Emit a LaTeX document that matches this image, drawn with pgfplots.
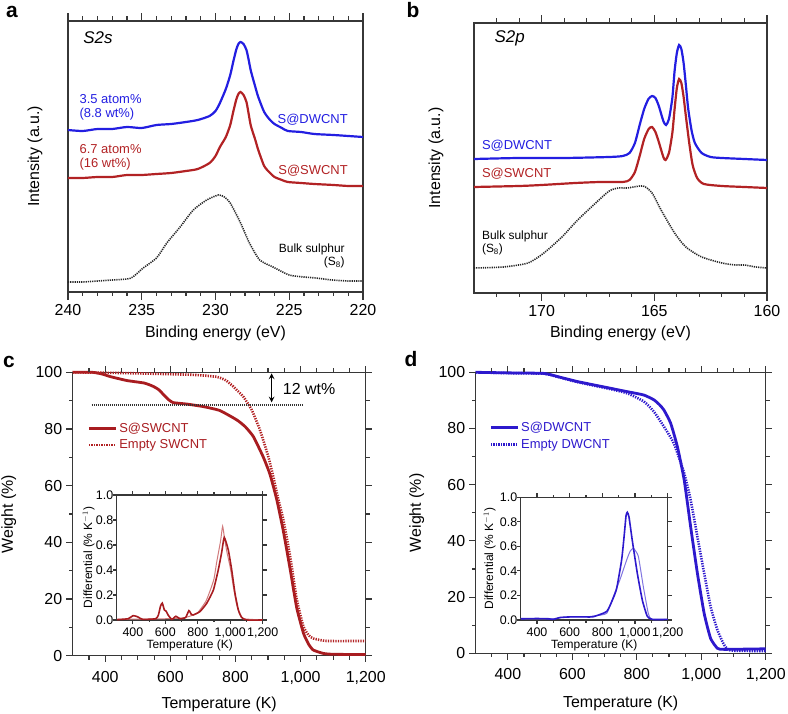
\documentclass[border=0pt]{standalone}
\usepackage{fontspec}
\setmainfont{Liberation Sans}
\usepackage{pgfplots}
\pgfplotsset{compat=1.18}
\definecolor{sblue}{RGB}{35,30,225}
\definecolor{sred}{RGB}{178,34,36}
\definecolor{dred}{RGB}{168,28,32}
\definecolor{dblue}{RGB}{45,25,205}
\definecolor{axgray}{RGB}{55,55,55}
\newcommand{\fs}[1]{\fontsize{#1}{#1}\selectfont}
% tick marks on the axis frame: list, ymin, ymax, length
\newcommand{\xticksat}[4]{\pgfplotsinvokeforeach{#1}{%
  \draw[axgray, line width=1.1bp] (axis cs:##1,#2) -- ([yshift=-#4]axis cs:##1,#2);
  \draw[axgray, line width=1.1bp] (axis cs:##1,#3) -- ([yshift=#4]axis cs:##1,#3);}}
\newcommand{\yticksat}[4]{\pgfplotsinvokeforeach{#1}{%
  \draw[axgray, line width=1.1bp] (axis cs:#2,##1) -- ([xshift=-#4]axis cs:#2,##1);
  \draw[axgray, line width=1.1bp] (axis cs:#3,##1) -- ([xshift=#4]axis cs:#3,##1);}}
\pgfplotsset{
  mybase/.style={scale only axis, anchor=south west, clip=false,
    axis line style={line width=1.1bp, draw=axgray},
    major tick length=0pt, minor tick length=0pt,
    /pgf/number format/assume math mode=true,
    tick label style={font=\fs{16}},
    label style={font=\fs{16}},
    xlabel style={anchor=center},
    ylabel style={anchor=center}},
  myinset/.style={mybase, xmin=300, xmax=1200, ymin=0, ymax=1,
    xtick={400,600,800,1000,1200}, ytick={0,0.2,0.4,0.6,0.8,1},
    yticklabel style={/pgf/number format/.cd, fixed, fixed zerofill, precision=1},
    tick label style={font=\fs{12.5}}, label style={font=\fs{12}},
    xticklabel shift=4bp, yticklabel shift=0bp,
    axis background/.style={fill=white},
    xlabel={Temperature (K)}, ylabel={Differential (\% K$^{-1}$)}},
  mytga/.style={mybase, xmin=300, xmax=1200, ymin=0, ymax=100,
    xtick={400,600,800,1000,1200}, ytick={0,20,40,60,80,100},
    xticklabel shift=12bp, yticklabel shift=7bp,
    xlabel={Temperature (K)}, ylabel={Weight (\%)},
    legend cell align=left,
    legend image code/.code={\draw[##1] (0bp,0bp) -- (27bp,0bp);}},
  myxps/.style={mybase, ymin=0, ytick=\empty, xticklabel shift=9bp,
    xlabel={Binding energy (eV)}, ylabel={Intensity (a.u.)}},
}
\begin{document}
\begin{tikzpicture}
\useasboundingbox (0,0) rectangle (788bp,714bp);
% ---------- a ----------
\begin{axis}[myxps, at={(68bp,422bp)}, width=295bp, height=271bp,
  xmin=220, xmax=240, x dir=reverse, ymax=271, xtick={220,225,230,235,240},
  xlabel style={at={(axis description cs:0.5,-0.151)}},
  ylabel style={at={(axis description cs:-0.112,0.5)}}]
\addplot[sblue, line width=2.2bp, smooth, tension=0.4] coordinates {
(240,162) (239,161) (238,163) (237,163) (236,165) (235,164) (234,167) (233,168) (232,170) (231.2,172) (230.4,176) (230,181) (229.7,189) (229.3,203) (229.0,217) (228.8,230) (228.6,242) (228.45,248) (228.3,250) (228.1,248) (227.9,242) (227.75,232) (227.6,221) (227.3,205) (227.1,195) (226.7,180) (226.3,172) (226.0,168) (225.5,164) (225.1,161) (224.2,160) (223.3,158) (222,157) (221,156) (220,155)};
\addplot[sred, line width=2.2bp, smooth, tension=0.4] coordinates {
(240,114) (239,114) (238,115) (237,115) (236,117) (235,117) (234,118) (233,119) (232,121) (231.2,123) (230.4,129) (230,136) (229.7,145) (229.3,155) (229.0,167) (228.8,180) (228.6,192) (228.45,198) (228.3,200) (228.1,197) (227.9,190) (227.75,178) (227.6,166) (227.3,152) (227.1,142) (226.7,126) (226.3,119) (226.0,115) (225.5,112) (225.1,110) (224.2,109) (223.3,108) (222,107) (221,106) (220,106)};
\addplot[black!85, line width=1.6bp, dash pattern=on 1.2bp off 1bp, smooth, tension=0.4] coordinates {
(240,10) (239,10) (238,11) (237,12) (236,13) (235.6,15) (234.9,24) (234.0,34) (233.3,49) (232.4,65) (231.5,82) (230.6,92) (229.8,97) (229.4,95) (229.0,89) (228.3,69) (227.7,49) (227.0,32) (226.1,25) (225.0,17) (224,15) (223.2,14) (222.1,12) (221,11) (220.1,11)};
\xticksat{220,225,230,235,240}{0}{271}{8bp}
\xticksat{221,222,223,224,226,227,228,229,231,232,233,234,236,237,238,239}{0}{271}{4.5bp}
\node[anchor=west, font=\fs{17}\itshape] at (axis cs:239.2,254) {S2s};
\node[anchor=west, align=left, text=sblue, font=\fs{13}] at (axis cs:239.45,185) {3.5 atom\%\\[1bp](8.8 wt\%)};
\node[anchor=west, align=left, text=sred, font=\fs{13}] at (axis cs:239.45,135) {6.7 atom\%\\[1bp](16 wt\%)};
\node[anchor=east, text=sblue, font=\fs{13}] at (axis cs:220.8,172) {S@DWCNT};
\node[anchor=east, text=sred, font=\fs{13}] at (axis cs:220.8,121) {S@SWCNT};
\node[anchor=east, align=right, font=\fs{12}] at (axis cs:221.0,36) {Bulk sulphur\\[1bp](S\textsubscript{8})};
\end{axis}
% ---------- b ----------
\begin{axis}[myxps, at={(474bp,421bp)}, width=293bp, height=270bp,
  xmin=160, xmax=173, x dir=reverse, ymax=270, xtick={160,165,170},
  xlabel style={at={(axis description cs:0.5,-0.148)}},
  ylabel style={at={(axis description cs:-0.130,0.5)}}]
\addplot[sblue, line width=2.2bp, smooth, tension=0.4] coordinates {
(173,134) (171,135) (169,135) (167,136) (166.4,137) (166.1,140) (165.86,150) (165.65,168) (165.45,184) (165.26,194) (165.1,197) (164.95,195) (164.8,187) (164.6,172) (164.48,168) (164.35,174) (164.2,195) (164.1,222) (164.0,240) (163.9,248) (163.8,244) (163.7,230) (163.6,208) (163.5,185) (163.35,163) (163.2,150) (162.9,140) (162.5,136) (162,135) (161,134) (160,133)};
\addplot[sred, line width=2.2bp, smooth, tension=0.4] coordinates {
(173,106) (171,107) (170,108) (168.5,110) (167.4,111) (166.4,111) (166.1,113) (165.86,121) (165.65,137) (165.45,154) (165.25,164) (165.1,166) (164.95,161) (164.8,151) (164.6,136) (164.5,133) (164.35,140) (164.2,160) (164.1,184) (164.0,205) (163.9,214) (163.8,210) (163.7,196) (163.6,177) (163.45,150) (163.3,128) (163.1,115) (162.8,109) (162,107) (161,106) (160,105)};
\addplot[black!85, line width=1.6bp, dash pattern=on 1.2bp off 1bp, smooth, tension=0.4] coordinates {
(173,25) (171.7,26) (170.6,30) (169.9,40) (169.1,56) (168.4,73) (167.6,90) (167.0,102) (166.6,105) (166.2,105) (165.5,107) (165.1,100) (164.7,83) (164.1,60) (163.6,46) (162.9,36) (162.0,30) (161.4,28) (161.0,28) (160.5,26) (160,25)};
\xticksat{160,165,170}{0}{270}{8bp}
\xticksat{161,162,163,164,166,167,168,169,171,172}{0}{270}{4.5bp}
\node[anchor=west, font=\fs{17}\itshape] at (axis cs:172.24,255) {S2p};
\node[anchor=west, text=sblue, font=\fs{13}] at (axis cs:172.8,147) {S@DWCNT};
\node[anchor=west, text=sred, font=\fs{13}] at (axis cs:172.8,119) {S@SWCNT};
\node[anchor=west, align=left, font=\fs{12}] at (axis cs:172.8,50) {Bulk sulphur\\[1bp](S\textsubscript{8})};
\end{axis}
% ---------- c ----------
\begin{axis}[mytga, at={(72.7bp,58.3bp)}, width=293bp, height=283.4bp,
  xlabel style={at={(axis description cs:0.5,-0.173)}},
  ylabel style={at={(axis description cs:-0.218,0.5)}},
  legend style={at={(axis cs:345,83)}, anchor=north west, draw=none, fill=none,
    inner sep=0pt, row sep=2bp, font=\fs{13}, text=dred}]
\addplot[dred, line width=2.8bp, smooth, tension=0.3] coordinates {
(300,100) (360,100) (390,99.4) (415,98.5) (466,97.1) (520,96.2) (548,95) (565,93.8) (580,92) (595,90.3) (609,89.3) (650,88.8) (701,87.9) (752,86.5) (804,83.2) (830,80.8) (855,77.3) (885,70.2) (906,64) (927,55) (947,44) (968,30.5) (988,17) (1009,7.9) (1025,4) (1039,2) (1070,0.8) (1100,0.5) (1200,0.4)};
\addlegendentry{S@SWCNT}
\addplot[sred, line width=2.6bp, dash pattern=on 1.3bp off 1.2bp, smooth, tension=0.3] coordinates {
(300,100) (470,99.7) (670,99.1) (742,98.4) (770,97.2) (793,95) (824,91.4) (850,86.7) (875,79.7) (901,70.2) (916,63.2) (932,55) (947,48) (968,35) (988,20) (1009,10.2) (1025,7.2) (1039,6.1) (1080,5.2) (1200,5.2)};
\addlegendentry{Empty SWCNT}
\addplot[black!80, line width=1.4bp, dash pattern=on 1bp off 1bp, forget plot] coordinates {(358,88.5) (1007,88.5)};
\xticksat{400,600,800,1000,1200}{0}{100}{6.5bp}
\xticksat{350,450,500,550,650,700,750,850,900,950,1050,1100,1150}{0}{100}{4bp}
\yticksat{0,20,40,60,80,100}{300}{1200}{6.5bp}
\yticksat{10,30,50,70,90}{300}{1200}{4bp}
\draw[<->, >=stealth, line width=1.5bp] (axis cs:911,99.6) -- (axis cs:911,89.4);
\node[anchor=west, font=\fs{16}] at (axis cs:935,94) {12 wt\%};
\end{axis}
\begin{axis}[myinset, at={(116.7bp,94bp)}, width=146bp, height=125bp,
  xlabel style={at={(axis description cs:0.5,-0.2)}},
  ylabel style={at={(axis description cs:-0.192,0.5)}}]
\addplot[sred!60, line width=1bp, smooth, tension=0.3] coordinates {
(300,0.005) (500,0.008) (600,0.01) (700,0.015) (750,0.03) (800,0.06) (850,0.15) (880,0.25) (900,0.33) (916,0.46) (940,0.63) (953,0.75) (965,0.65) (980,0.54) (1000,0.42) (1020,0.26) (1040,0.12) (1060,0.04) (1080,0.01) (1200,0)};
\addplot[dred, line width=1.6bp, smooth, tension=0.3] coordinates {
(300,0.003) (370,0.01) (402,0.035) (430,0.025) (460,0.005) (540,0.01) (557,0.04) (570,0.11) (581,0.135) (594,0.08) (605,0.07) (617,0.04) (640,0.005) (665,0.03) (690,0.01) (725,0.02) (745,0.075) (760,0.045) (771,0.04) (813,0.067) (855,0.134) (896,0.24) (926,0.40) (947,0.54) (963,0.66) (988,0.56) (1009,0.40) (1029,0.215) (1050,0.08) (1071,0.02) (1101,0) (1200,0)};
\xticksat{400,600,800,1000,1200}{0}{1}{4bp}
\xticksat{500,700,900,1100}{0}{1}{2.5bp}
\yticksat{0,0.2,0.4,0.6,0.8,1}{300}{1200}{4bp}
\end{axis}
% ---------- d ----------
\begin{axis}[mytga, at={(475.7bp,60.7bp)}, width=290bp, height=281bp,
  xlabel style={at={(axis description cs:0.5,-0.178)}},
  ylabel style={at={(axis description cs:-0.203,0.5)}},
  legend style={at={(axis cs:342,83)}, anchor=north west, draw=none, fill=none,
    inner sep=0pt, row sep=2bp, font=\fs{13}, text=dblue}]
\addplot[dblue, line width=2.8bp, smooth, tension=0.3] coordinates {
(300,100) (400,99.8) (512,99.6) (560,98.3) (616,96.7) (719,94.3) (771,93.1) (822,91.9) (853,90.2) (870,88.5) (884,86.6) (905,81.9) (926,73.5) (947,61.7) (967,45.1) (988,28.5) (1009,14.2) (1029,5.3) (1050,1.8) (1071,1.4) (1200,1.6)};
\addlegendentry{S@DWCNT}
\addplot[dblue, line width=2.6bp, dash pattern=on 1.3bp off 1.2bp, smooth, tension=0.3] coordinates {
(300,100) (400,99.7) (512,99.5) (560,98.2) (616,96.5) (719,94) (771,92.5) (822,89.6) (853,86) (884,80.7) (915,74.7) (947,64.1) (967,54.6) (988,41.5) (1009,28.5) (1029,16.6) (1050,8.3) (1071,3) (1091,1) (1200,0.8)};
\addlegendentry{Empty DWCNT}
\xticksat{400,600,800,1000,1200}{0}{100}{6.5bp}
\xticksat{350,450,500,550,650,700,750,850,900,950,1050,1100,1150}{0}{100}{4bp}
\yticksat{0,20,40,60,80,100}{300}{1200}{6.5bp}
\yticksat{10,30,50,70,90}{300}{1200}{4bp}
\end{axis}
\begin{axis}[myinset, at={(520.7bp,94bp)}, width=147bp, height=122.7bp,
  xlabel style={at={(axis description cs:0.5,-0.204)}},
  ylabel style={at={(axis description cs:-0.211,0.5)}}]
\addplot[dblue!60, line width=1bp, smooth, tension=0.3] coordinates {
(300,0.01) (500,0.01) (541,0.02) (600,0.025) (700,0.025) (760,0.035) (827,0.055) (867,0.19) (908,0.33) (949,0.49) (970,0.56) (990,0.584) (1020,0.52) (1051,0.27) (1081,0.055) (1102,0.005) (1200,0.005)};
\addplot[dblue, line width=1.6bp, smooth, tension=0.3] coordinates {
(300,0.01) (400,0.012) (470,0.01) (500,0.005) (541,0.02) (600,0.025) (700,0.025) (745,0.027) (827,0.07) (867,0.18) (888,0.26) (918,0.49) (933,0.68) (945,0.85) (953,0.878) (963,0.84) (983,0.65) (1014,0.38) (1045,0.16) (1075,0.03) (1106,0.005) (1200,0.005)};
\xticksat{400,600,800,1000,1200}{0}{1}{4bp}
\xticksat{500,700,900,1100}{0}{1}{2.5bp}
\yticksat{0,0.2,0.4,0.6,0.8,1}{300}{1200}{4bp}
\end{axis}
% ---------- panel letters ----------
\node[anchor=base, font=\fs{21}\bfseries] at (12bp,696bp) {a};
\node[anchor=base, font=\fs{21}\bfseries] at (413bp,696bp) {b};
\node[anchor=base, font=\fs{21}\bfseries] at (9bp,346bp) {c};
\node[anchor=base, font=\fs{21}\bfseries] at (411bp,347bp) {d};
\end{tikzpicture}
\end{document}
